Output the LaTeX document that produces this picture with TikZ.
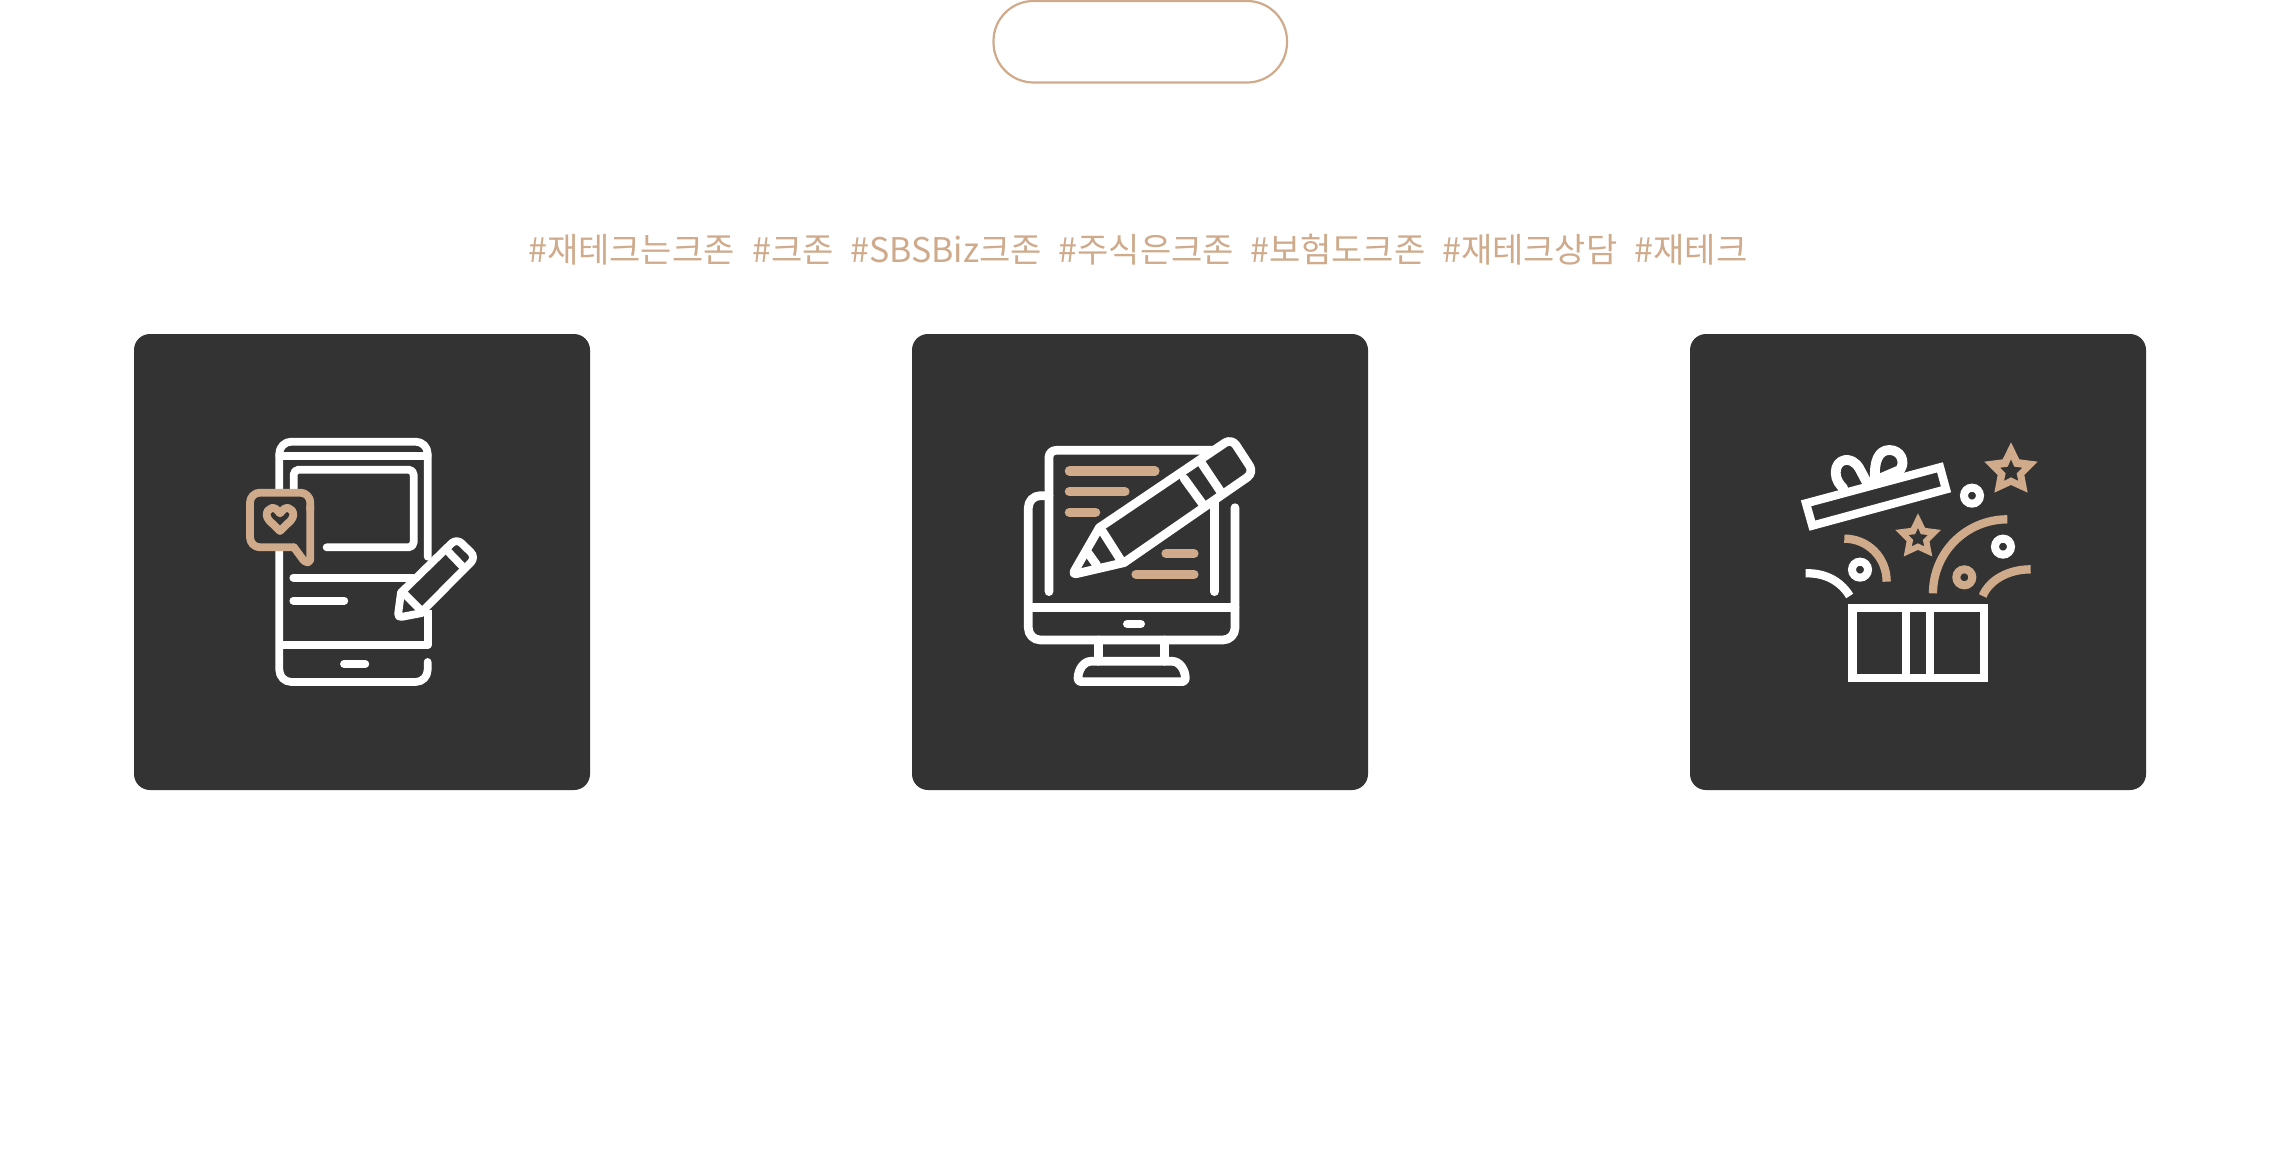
\documentclass[tikz,border=0pt]{standalone}
\usepackage{fontspec}
\newfontfamily\krfont{Noto Sans CJK KR}
\definecolor{tan}{HTML}{CFAB8C}
\definecolor{card}{HTML}{333333}
\tikzset{
  wl/.style={draw=white,line width=7.8pt,line cap=round,line join=round},
  tl/.style={draw=tan,line width=7.8pt,line cap=round,line join=round},
  wm/.style={draw=white,line width=8.3pt,line cap=butt,line join=miter},
  tm/.style={draw=tan,line width=8.3pt,line cap=butt,line join=miter},
  cardbox/.style={fill=card,rounded corners=16pt},
  tagtext/.style={anchor=base west,inner sep=0pt,text=tan,font=\krfont\fontsize{34}{40}\selectfont}
}
\begin{document}
\begin{tikzpicture}[x=1pt,y=-1pt]
\useasboundingbox (0,0) rectangle (2280,1156);
\fill[white] (0,0) rectangle (2280,1156);
% pill
\draw[draw=tan,line width=2.2pt,rounded corners=40pt] (993.5,1) rectangle (1287,82.5);
% tags
\node[tagtext] (t1) at (528,262.5) {\#재테크는크존};
\node[tagtext] (t2) at (752.5,262.5) {\#크존};
\node[tagtext] (t3) at (850,262.5) {\#SBSBiz크존};
\node[tagtext] (t4) at (1058.5,262.5) {\#주식은크존};
\node[tagtext] (t5) at (1250,262.5) {\#보험도크존};
\node[tagtext] (t6) at (1442,262.5) {\#재테크상담};
\node[tagtext] (t7) at (1634.5,262.5) {\#재테크};
% cards
\fill[cardbox] (134,334) rectangle (590,790);
\fill[cardbox] (912,334) rectangle (1368,790);
\fill[cardbox] (1690,334) rectangle (2146,790);
% phone icon
\begin{scope}[shift={(220,410)},x=0.3333pt,y=-0.3333pt]
\draw[wl,rounded corners=12pt] (623,756) -- (623,816) -- (178,816) -- (178,95) -- (623,95) -- (623,440);
\draw[wl,line cap=butt] (623,600) -- (623,705) -- (178,705);
\draw[wl] (178,137) -- (623,137);
\draw[wl] (372,762) -- (436,762);
\draw[wl,rounded corners=5pt] (221,240) -- (221,179) -- (581,179) -- (581,412) -- (320,412);
\draw[wl] (220,503) -- (580,503);
\draw[wl] (220,572) -- (373,572);
\fill[card] (90,248) rectangle (271,412);
\draw[tl,rounded corners=10pt] (271,300) -- (271,248) -- (90,248) -- (90,412) -- (222,412);
\draw[tl,rounded corners=3pt] (222,412) -- (255,457) -- (271,457) -- (271,290);
\draw[tl] (180,363) -- (148,332) .. controls (128,310) and (150,285) .. (168,297) -- (180,310) -- (192,297) .. controls (210,285) and (232,310) .. (212,332) -- cycle;
\fill[card] (533,623) -- (543,548) -- (710,390) -- (763,442) -- (606,605) -- cycle;
\draw[wl,rounded corners=7pt] (543,548) -- (710,385) -- (768,442) -- (606,605);
\draw[wl,rounded corners=4pt] (543,548) -- (533,623) -- (606,609);
\draw[wl] (552,550) -- (605,603);
\draw[wl] (680,420) -- (733,475);
\end{scope}
% monitor icon
\begin{scope}[shift={(1000,410)},x=0.3333pt,y=-0.3333pt]
\tikzset{wl/.append style={line width=8.7pt},tl/.append style={line width=9.2pt}}
\draw[wl,rounded corners=12pt] (147,257) -- (85,257) -- (85,690) -- (705,690) -- (705,293);
\draw[wl] (85,592) -- (705,592);
\draw[wl] (382,642) -- (422,642);
\draw[wl] (295,690) -- (295,754);
\draw[wl] (494,690) -- (494,754);
\draw[wl,rounded corners=3pt] (234,815) .. controls (234,778) and (252,754) .. (282,754) -- (508,754) .. controls (538,754) and (556,778) .. (556,815) -- cycle;
\draw[wl,rounded corners=7pt] (147,545) -- (147,121) -- (640,121);
\draw[wl] (643,545) -- (643,270);
\draw[tl] (208,183) -- (465,183);
\draw[tl] (208,245) -- (375,245);
\draw[tl] (208,307) -- (287,307);
\draw[tl] (498,431) -- (582,431);
\draw[tl] (408,493) -- (582,493);
\fill[card] (220,490) -- (298,353) -- (695,85) -- (762,188) -- (372,458) -- cycle;
\draw[wl,rounded corners=8pt] (298,353) -- (695,85) -- (762,188) -- (372,458);
\draw[wl,rounded corners=4pt] (298,353) -- (217,494) -- (372,458);
\draw[wl] (552,205) -- (610,285);
\draw[wl] (605,160) -- (662,245);
\draw[wl] (308,365) -- (362,450);
\draw[wl] (265,430) -- (290,465);
\end{scope}
% gift icon
\begin{scope}[shift={(1780,420)},x=0.3333pt,y=-0.3333pt]
\draw[wm] (217,565) rectangle (612,775);
\draw[wm] (378,565) -- (378,775);
\draw[wm] (449,565) -- (449,775);
\draw[wm] (78,250) -- (480,142) -- (498,208) -- (97,317) -- cycle;
\draw[wl,line width=9.8pt] (262,190) -- (238,145) .. controls (215,105) and (167,115) .. (167,158) .. controls (167,180) and (180,195) .. (190,205);
\draw[wl,line width=9.8pt] (285,175) .. controls (282,125) and (295,90) .. (328,90) .. controls (362,90) and (378,125) .. (360,150) -- (290,180);
\fill[tan,even odd rule] (693,67) -- (718,118) -- (773,125) -- (733,165) -- (743,218) -- (693,195) -- (643,218) -- (653,165) -- (613,125) -- (668,118) -- cycle
 (693,118) -- (703,140) -- (727,143) -- (710,160) -- (715,183) -- (693,172) -- (672,183) -- (677,160) -- (660,143) -- (683,140) -- cycle;
\begin{scope}[shift={(414,280)},x=0.2857pt,y=-0.2857pt]
\fill[tan,even odd rule] (0,0) -- (25,51) -- (80,58) -- (40,98) -- (50,151) -- (0,128) -- (-50,151) -- (-40,98) -- (-80,58) -- (-25,51) -- cycle
 (0,51) -- (10,73) -- (34,76) -- (17,93) -- (22,116) -- (0,105) -- (-22,116) -- (-17,93) -- (-34,76) -- (-10,73) -- cycle;
\end{scope}
\draw[draw=white,line width=8pt] (576,227) circle[radius=8pt];
\draw[draw=white,line width=8pt] (669,380) circle[radius=8pt];
\draw[draw=white,line width=8pt] (240,449) circle[radius=8pt];
\draw[draw=tan,line width=8pt] (553,472) circle[radius=8pt];
\draw[tm] (193,356) .. controls (264,356) and (320,413) .. (320,485);
\draw[tm] (459,520) .. controls (459,397) and (559,298) .. (682,298);
\draw[tm] (608,528) .. controls (628,480) and (685,448) .. (752,448);
\draw[wm] (77,460) .. controls (130,458) and (180,480) .. (209,528);
\end{scope}
\end{tikzpicture}
\end{document}
